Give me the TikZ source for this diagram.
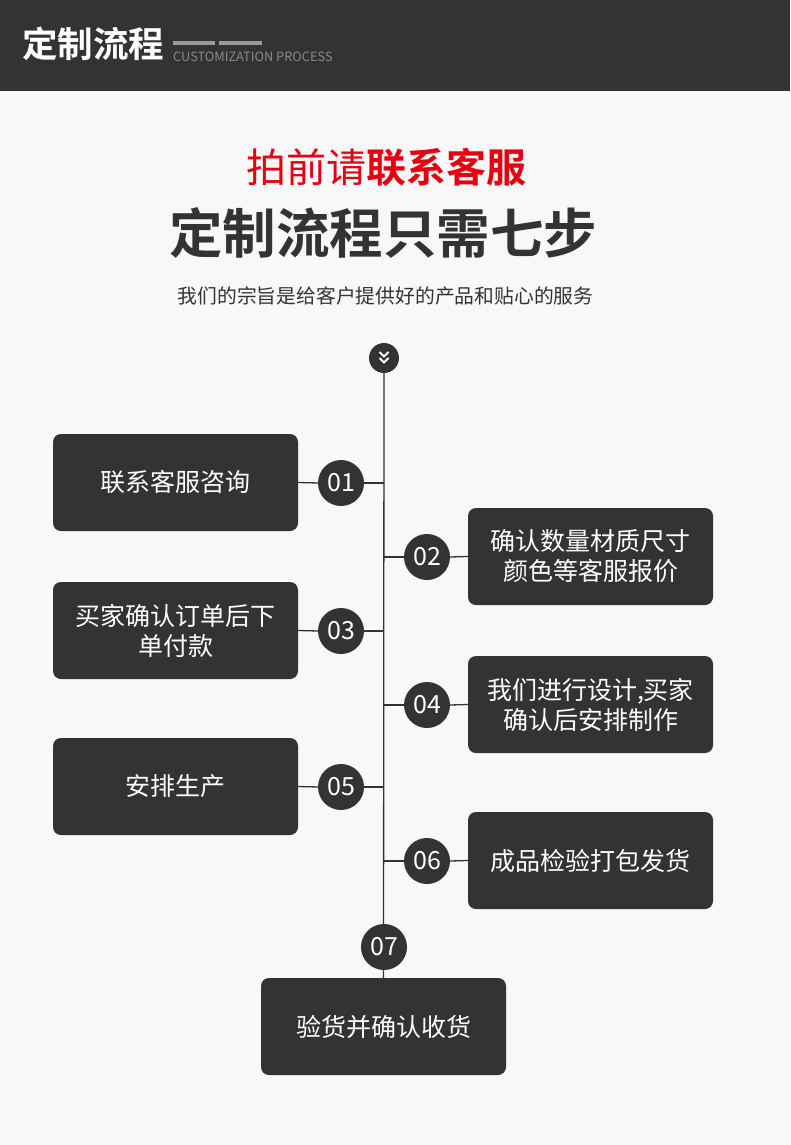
\documentclass[tikz,border=0pt]{standalone}
\usepackage{fontspec}
\setmainfont{Noto Sans CJK SC}[BoldFont={Noto Sans CJK SC Bold}]
\definecolor{darkbg}{HTML}{333333}
\definecolor{pagebg}{HTML}{F8F8F8}
\definecolor{callred}{HTML}{E60012}
\definecolor{linegray}{HTML}{9A9A9A}
\definecolor{subgray}{HTML}{888888}
\tikzset{
    stepbox/.style={fill=darkbg, rounded corners=8pt, minimum width=245pt, minimum height=97pt,
        inner sep=0pt, text=white, align=center, font=\fontsize{25}{30}\selectfont},
    stepnum/.style={circle, fill=darkbg, minimum size=46pt, inner sep=0pt, text=white,
        font=\fontsize{25}{25}\selectfont},
    link/.style={draw=darkbg, line width=1.3pt},
}
\begin{document}
\begin{tikzpicture}[x=1pt,y=-1pt]
        \useasboundingbox (0,0) rectangle (790,1145);
        \fill [pagebg] (0,0) rectangle (790,1145);
        % header bar
        \fill [darkbg] (0,0) rectangle (790,91);
        \node [anchor=base west, inner sep=0pt, text=white, font=\fontsize{35.5}{35.5}\selectfont\bfseries] (hdtitle) at (22,58) {定制流程};
        \fill [linegray] (173,41) rectangle (215,45);
        \fill [linegray] (219,41) rectangle (262,45);
        \node [anchor=base west, inner sep=0pt, text=subgray, font=\fontsize{12.8}{12.8}\selectfont] (hdsub) at (173,62) {CUSTOMIZATION PROCESS};
        % headings
        \node [inner sep=0pt, text=callred, font=\fontsize{40}{40}\selectfont] (callout) at (386,167) {拍前请\textbf{联系客服}};
        \node [inner sep=0pt, text=darkbg, font=\fontsize{53.5}{53.5}\selectfont\bfseries] (maintitle) at (383,233) {定制流程只需七步};
        \node [inner sep=0pt, text=darkbg, font=\fontsize{19.8}{19.8}\selectfont] (tagline) at (385.5,296) {我们的宗旨是给客户提供好的产品和贴心的服务};
        % start icon
        \node [circle, fill=darkbg, minimum size=30pt, inner sep=0pt] (icon) at (384,358) {};
        \begin{scope}[shift={(icon.center)}]
            \draw [white, line width=1.8pt] (-4.5,-6) -- (0,-1.5) -- (4.5,-6);
            \draw [white, line width=1.8pt] (-4.5,0) -- (0,4.5) -- (4.5,0);
        \end{scope}
        % steps
        \node [stepbox] (s1) at (175.5,482.5) {联系客服咨询};
        \node [stepbox] (s2) at (590.5,556.5) {确认数量材质尺寸\\颜色等客服报价};
        \node [stepbox] (s3) at (175.5,630.5) {买家确认订单后下\\单付款};
        \node [stepbox] (s4) at (590.5,704.5) {我们进行设计,买家\\确认后安排制作};
        \node [stepbox] (s5) at (175.5,786.5) {安排生产};
        \node [stepbox] (s6) at (590.5,860.5) {成品检验打包发货};
        \node [stepbox] (s7) at (383.5,1026.5) {验货并确认收货};
        % spine
        \draw [link] (icon.south) -- (s7.north);
        \node [stepnum] (n1) at (341,483) {01};
        \node [stepnum] (n2) at (427,557) {02};
        \node [stepnum] (n3) at (341,631) {03};
        \node [stepnum] (n4) at (427,705) {04};
        \node [stepnum] (n5) at (341,787) {05};
        \node [stepnum] (n6) at (427,861) {06};
        \node [stepnum] (n7) at (384,947) {07};
        \draw [link] (s1.east) -- (n1.west);
        \draw [link] (n1.east) -- (n1 -| icon);
        \draw [link] (n2 -| icon) -- (n2.west);
        \draw [link] (n2.east) -- (s2.west);
        \draw [link] (s3.east) -- (n3.west);
        \draw [link] (n3.east) -- (n3 -| icon);
        \draw [link] (n4 -| icon) -- (n4.west);
        \draw [link] (n4.east) -- (s4.west);
        \draw [link] (s5.east) -- (n5.west);
        \draw [link] (n5.east) -- (n5 -| icon);
        \draw [link] (n6 -| icon) -- (n6.west);
        \draw [link] (n6.east) -- (s6.west);
\end{tikzpicture}
\end{document}
